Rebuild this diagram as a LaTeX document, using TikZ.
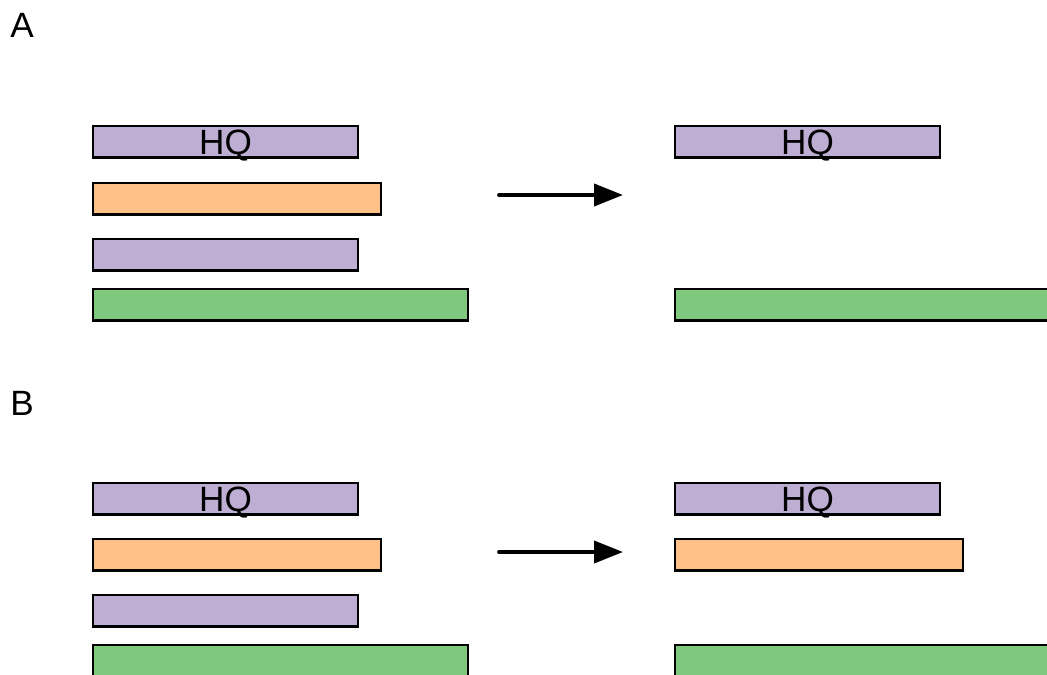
\documentclass[tikz,border=0pt]{standalone}
\usepackage{fontspec}
\setmainfont{Liberation Sans}
\usetikzlibrary{arrows.meta}
\definecolor{violetHQ}{RGB}{190,174,212}
\definecolor{orangeHQ}{RGB}{253,192,134}
\definecolor{vertHQ}{RGB}{127,201,127}
\begin{document}
\begin{tikzpicture}
\tikzset{barre/.style={draw, line width=1.3pt, anchor=north west, inner sep=0pt, outer sep=0pt, minimum height=0.63cm, text depth=0pt, font=\fontsize{20}{24}\selectfont},
violette/.style={barre, fill=violetHQ, minimum width=5.3cm},
orange/.style={barre, fill=orangeHQ, minimum width=5.76cm},
verte/.style={barre, fill=vertHQ, minimum width=7.5cm},
fleche/.style={line width=2.2pt, line cap=round, -{Triangle[length=0.58cm, width=0.44cm]}},
lettre/.style={font=\fontsize{20}{24}\selectfont}}
\useasboundingbox (0,0) rectangle (20.94,-13.48);
\clip (0,0) rectangle (20.94,-13.48);
\node[lettre] (LA) at (0.44,-0.51) {A};
\node[violette] (A1) at (1.86,-2.52) {HQ};
\node[orange] (A2) at (1.86,-3.66) {};
\node[violette] (A3) at (1.86,-4.78) {};
\node[verte] (A4) at (1.86,-5.78) {};
\coordinate (FA1) at (9.98,-3.90);
\coordinate (FA2) at (12.46,-3.90);
\draw[fleche] (FA1) -- (FA2);
\node[violette] (A5) at (13.5,-2.52) {HQ};
\node[verte] (A6) at (13.5,-5.78) {};
\node[lettre] (LB) at (0.44,-8.06) {B};
\node[violette] (B1) at (1.86,-9.66) {HQ};
\node[orange] (B2) at (1.86,-10.78) {};
\node[violette] (B3) at (1.86,-11.90) {};
\node[verte] (B4) at (1.86,-12.90) {};
\coordinate (FB1) at (9.98,-11.04);
\coordinate (FB2) at (12.46,-11.04);
\draw[fleche] (FB1) -- (FB2);
\node[violette] (B5) at (13.5,-9.66) {HQ};
\node[orange] (B6) at (13.5,-10.78) {};
\node[verte] (B7) at (13.5,-12.90) {};
\end{tikzpicture}
\end{document}
